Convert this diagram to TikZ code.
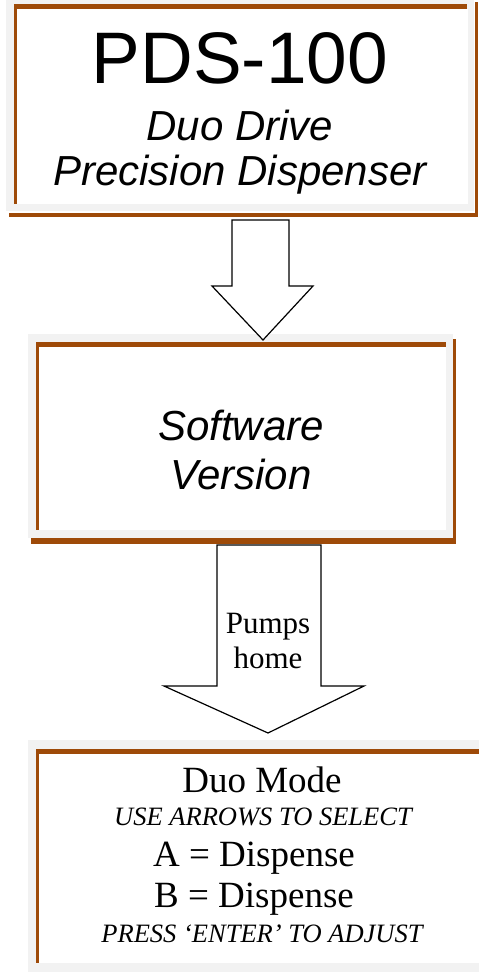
\documentclass[tikz,border=0pt]{standalone}
\usepackage{fontspec}
\setmainfont{Liberation Serif}
\newfontfamily\arialfont{Liberation Sans}
\definecolor{brn}{RGB}{158,74,8}
\definecolor{framegray}{RGB}{242,242,242}
\tikzset{
  frame/.style={fill=framegray, draw=none, inner sep=0pt, anchor=north west},
  inner/.style={fill=white, draw=none, inner sep=0pt, anchor=north west},
  edge/.style={fill=brn},
  blockarrow/.style={draw=black, line width=1.2pt, fill=white, line join=miter},
  txt/.style={anchor=base, inner sep=0pt},
}
\begin{document}
\begin{tikzpicture}[x=1pt,y=-1pt]
\useasboundingbox (0,0) rectangle (479,972);
% ---------- box 1 ----------
\node[frame, minimum width=468pt, minimum height=211pt] (f1) at (6,0) {};
\node[inner, minimum width=451pt, minimum height=195pt] (w1) at (17,9) {};
\fill[edge] (14,4) rectangle (467,9);
\fill[edge] (14,4) rectangle (17,204);
\fill[edge] (475,2) rectangle (478,217);
\fill[edge] (9,213) rectangle (478,217);
\node[txt, font=\arialfont\fontsize{73}{80}\selectfont] (t1) at (240,83) {PDS-100};
\node[txt, font=\arialfont\itshape\fontsize{42}{46}\selectfont] (t2) at (240,140) {Duo Drive};
\node[txt, font=\arialfont\itshape\fontsize{42}{46}\selectfont] (t3) at (240,185) {Precision Dispenser};
% ---------- box 2 ----------
\node[frame, minimum width=425pt, minimum height=204pt] (f2) at (28,334) {};
\node[inner, minimum width=407pt, minimum height=183pt] (w2) at (39,347) {};
\fill[edge] (36,342) rectangle (446,347);
\fill[edge] (36,342) rectangle (39,530);
\fill[edge] (453,339) rectangle (456,544);
\fill[edge] (31,538) rectangle (456,544);
\node[txt, font=\arialfont\itshape\fontsize{42}{46}\selectfont] (t4) at (241,440) {Software};
\node[txt, font=\arialfont\itshape\fontsize{42}{46}\selectfont] (t5) at (241,489) {Version};
% ---------- box 3 ----------
\node[frame, minimum width=451pt, minimum height=232pt] (f3) at (28,740) {};
\node[inner, minimum width=440pt, minimum height=209pt] (w3) at (39,754) {};
\fill[edge] (36,749) rectangle (479,754);
\fill[edge] (36,749) rectangle (39,963);
\node[txt, font=\fontsize{37}{40}\selectfont] (t8) at (262,792) {Duo Mode};
\node[txt, font=\itshape\fontsize{26.5}{30}\selectfont] (t9) at (263,825) {USE ARROWS TO SELECT};
\node[txt, font=\fontsize{37}{40}\selectfont] (t10) at (254,866) {A = Dispense};
\node[txt, font=\fontsize{37}{40}\selectfont] (t11) at (254,907) {B = Dispense};
\node[txt, font=\itshape\fontsize{26.5}{30}\selectfont] (t12) at (262,942) {PRESS ‘ENTER’ TO ADJUST};
% ---------- arrow 1 ----------
\coordinate (a1l) at (232,220);
\coordinate (a1r) at (289,220);
\coordinate (a1tip) at (263,340);
\draw[blockarrow] (a1l) -- (232,286) -- (212,286) -- (a1tip) -- (313,286) -- (289,286) -- (a1r) -- cycle;
% ---------- arrow 2 ----------
\coordinate (a2l) at (217,545);
\coordinate (a2r) at (321,545);
\coordinate (a2tip) at (268,733);
\draw[blockarrow] (a2l) -- (217,686) -- (164,686) -- (a2tip) -- (364,686) -- (321,686) -- (a2r) -- cycle;
\node[txt, font=\fontsize{31}{34}\selectfont] (t6) at (268,633) {Pumps};
\node[txt, font=\fontsize{31}{34}\selectfont] (t7) at (268,668) {home};
\end{tikzpicture}
\end{document}
